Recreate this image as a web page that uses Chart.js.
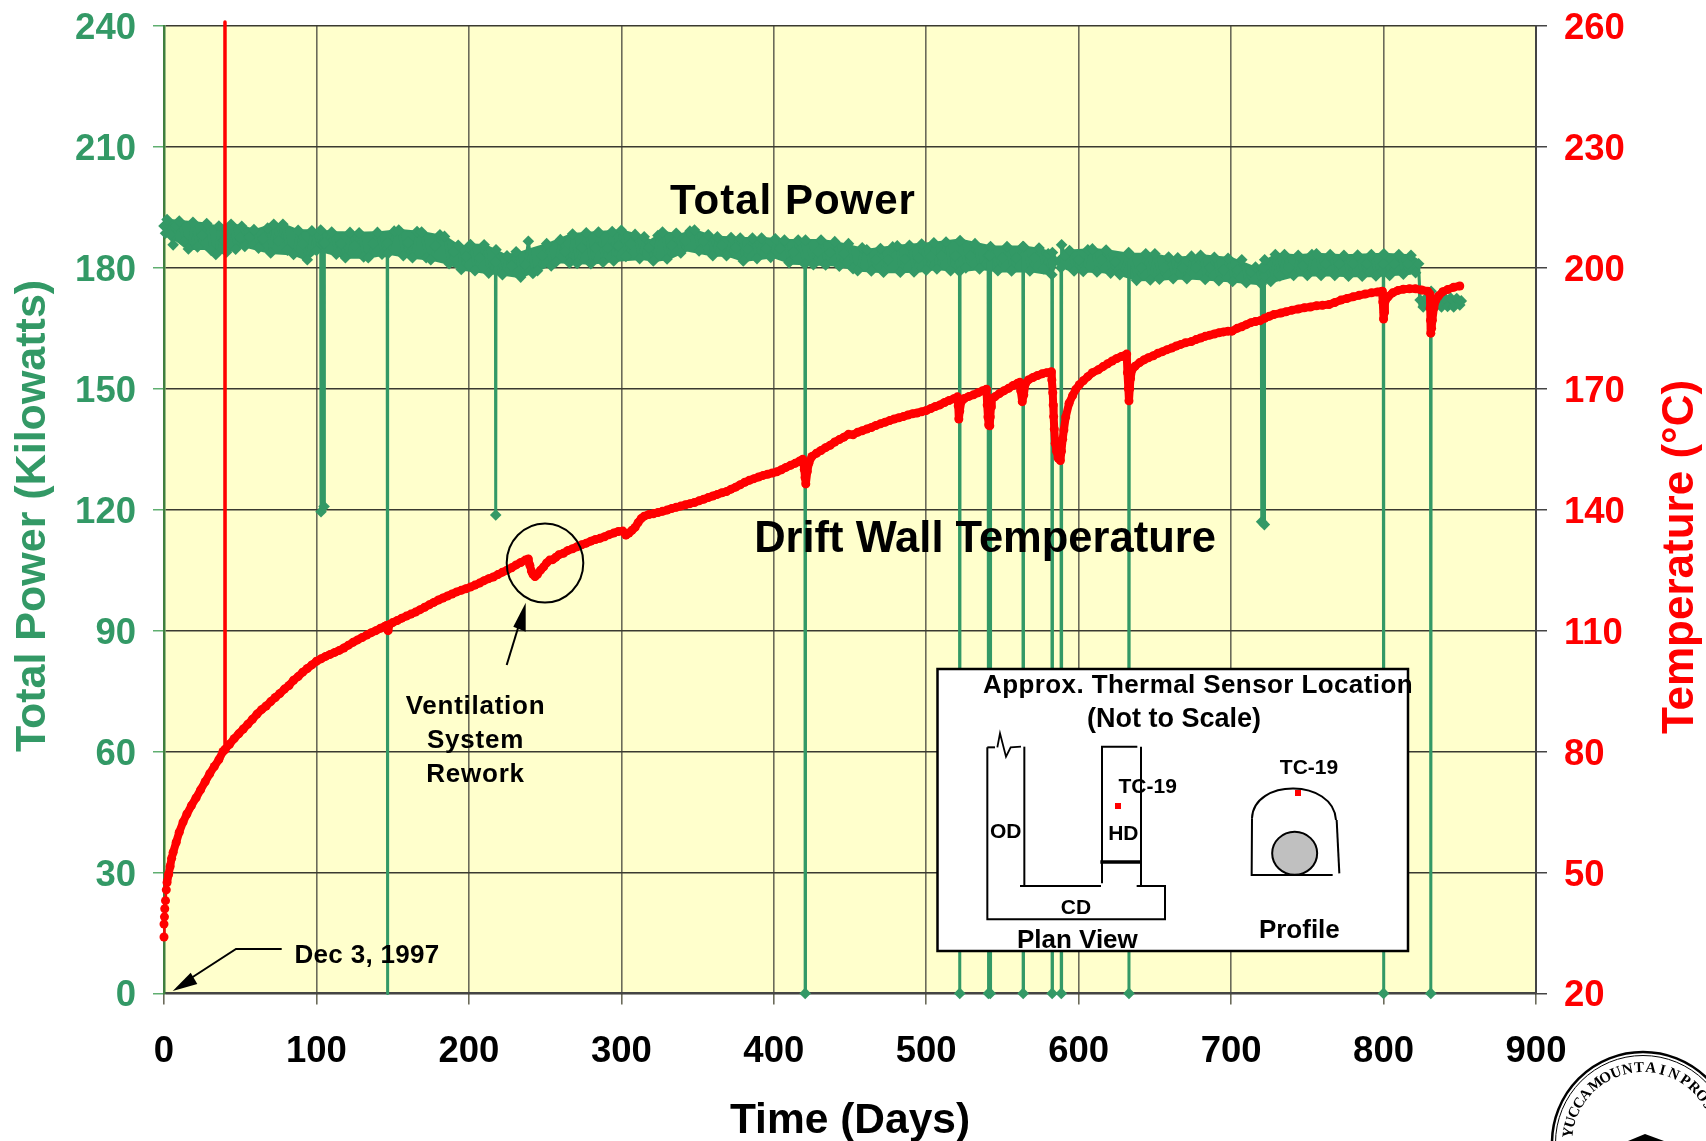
<!DOCTYPE html>
<html>
<head>
<meta charset="utf-8">
<title>Total Power and Drift Wall Temperature</title>
<script src="https://cdn.jsdelivr.net/npm/chart.js@4"></script>
<style>
  html, body { margin: 0; padding: 0; background: #fff; }
  canvas { display: block; }
</style>
</head>
<body>
<canvas id="myChart" width="1706" height="1141"></canvas>
<script>
const FONT = '"Liberation Sans"';
const GREEN = '#339966';
const RED = '#ff0000';

const xTicks = [0, 100, 200, 300, 400, 500, 600, 700, 800, 900];
const powerTicks = [0, 30, 60, 90, 120, 150, 180, 210, 240];
const tempTicks = [20, 50, 80, 110, 140, 170, 200, 230, 260];

// heater power (top edge, bottom edge, middle) and the outage spikes
const powerDays = [
  0,1,2,4,6,8,10,13,16,19,22,25,28,31,34,36,39,41,44,47,50,51,53,56,59,62,65,68,70,72,75,78,81,85,88,91,94,97,100,102.8,
  103,103.2,104.8,105,105.2,110,113,116,119,122,125,128,131,134,137,140,143,146.4,146.6,146.8,151,154,157,160,163,166,169,172,175,178,181,184,187,190,193,195,198,201,204,207,210,213,217.4,
  217.6,217.8,222,225,228,231,234,237,239,242,245,248,251,254,257,260,263,266,268,271,274,277,280,283,285,288,291,294,295,298,300,303,306,309,312,315,318,321,324,327,330,333,336,339,342,345,348,351,354,357,360,363,366,369,372,375,378,380,383,386,389,392,395,398,401,404,407,410,413,416,420.4,
  420.6,420.8,426,429,431,434,437,440,443,446,449,452,455,458,461,464,467,470,472,475,478,481,483,486,489,492,495,497,500,503,505,507,510,513,516,519,521.8,
  522,522.2,526,529,532,535,540.6,540.8,541,541.8,542,542.2,547,550,553,556,559,563.4,563.6,563.8,568,571,574,577,580,582.4,582.6,582.8,588.4,588.6,588.8,591,594,597,600,603,606,609,612,615,618,621,624,627,632.8,633,633.2,638,641,644,647,650,653,656,659,662,665,668,671,674,677,680,683,686,689,692,695,698,701,704,707,710,713,716,719.8,
  720,720.2,721.6,721.8,722,726,729,732,735,738,741,744,747,750,753,756,759,762,765,768,771,774,777,780,783,786,789,792,795,799.8,800,800.2,804,807,810,813,816,818,821,823,
  824,826,828,830.8,831,831.2,834,836,838,840,842,844,846,848,850,851
];
const powerKw = [
  190.4,188.6,192.0,188.2,185.7,190.5,191.6,186.4,184.7,191.3,185.2,188.1,191.0,184.3,183.3,190.4,186.8,183.9,190.8,184.6,187.5,190.3,185.3,187.6,189.5,184.9,187.3,189.9,183.7,190.8,186.7,190.8,184.4,183.3,189.3,185.9,182.0,189.2,184.3,189.4,
  119.5,186.0,186.0,120.8,186.2,188.9,183.4,186.0,182.5,188.8,185.5,188.7,182.7,182.5,186.0,188.8,183.4,186.2,0,183.5,189.1,189.4,183.0,186.3,182.5,189.0,188.9,182.5,182.0,185.5,188.2,187.8,181.0,184.0,185.6,179.6,182.8,185.8,179.3,182.5,185.7,178.7,181.5,
  118.7,184.5,178.3,183.0,180.5,184.0,177.7,180.8,186.6,178.6,179.3,183.0,186.0,180.5,181.4,187.0,184.0,181.2,188.4,181.1,185.0,188.7,181.0,185.0,188.9,181.4,185.0,189.0,181.7,185.5,189.3,182.8,186.0,188.3,182.3,187.7,185.0,181.7,188.0,188.9,182.2,185.6,188.6,183.7,186.7,189.1,189.4,184.2,186.7,188.2,183.0,187.7,185.5,183.0,187.5,185.0,187.4,181.7,184.7,187.4,182.3,187.4,184.8,182.6,187.2,184.8,186.9,181.3,184.0,186.9,180.9,
  0,186.9,180.8,184.0,186.9,180.7,183.8,186.5,180.4,183.5,186.0,179.8,179.3,185.0,184.5,179.2,182.0,184.8,178.9,182.0,185.2,185.5,178.9,182.2,185.6,179.0,182.4,185.9,179.4,182.8,186.2,179.7,183.0,186.4,179.3,183.0,179.1,
  0,186.8,180.0,183.0,186.0,179.7,183.0,0,183.0,183.0,0,185.3,179.3,182.5,185.3,179.2,182.5,185.3,0,185.3,179.2,182.5,184.9,179.8,183.5,178.3,0,183.8,180.0,0,185.7,183.0,184.3,179.2,182.0,179.1,184.5,184.7,179.0,182.0,184.4,178.7,181.5,178.3,183.8,0,183.5,176.9,180.0,183.5,177.0,183.5,177.2,180.0,182.7,177.3,182.5,180.0,177.3,182.9,180.0,183.1,177.1,180.0,182.6,176.8,179.5,182.4,176.6,179.5,182.0,176.3,179.0,180.2,176.0,
  117.0,180.0,180.0,116.3,182.0,176.6,183.3,178.0,183.3,180.0,178.1,183.1,180.5,178.1,183.3,183.5,178.1,181.0,183.3,178.1,181.0,183.1,177.9,181.0,183.2,177.9,181.0,183.3,178.0,181.0,0,183.5,178.1,181.0,183.3,178.4,181.0,183.1,178.8,181.0,
  172.0,170.3,172.5,170.4,0,174.2,170.4,172.5,170.3,172.6,170.4,172.5,170.3,172.4,170.8,171.8
];
const powerNoMarkerDays = [146.6];

// outline of the solid green band, the diamonds sit on top of it
const bandTopDays = [0,1.8,10.5,24.7,34.6,45.5,51,59.7,71.7,78.3,88.1,101.3,112.2,127.5,142.8,154.9,169,184.4,194.2,201.9,210.6,223.8,232,239,252,267.5,285,300,314.5,319,327.7,338.6,347.8,360.5,380,393,410.8,430.5,440,461,480.8,505,522,543,564,575,582.5,585,589,594.5,610,619.6,632.8,648,662,681,700.6,717,723.5,730,743,756.3,774,800,817.6,823,823.5,851];
const bandTopKw = [191,192,191.6,191.1,190.3,190.8,190.3,189.4,190.8,190.8,189.3,189.3,188.9,188.7,188.9,189.4,188.9,187.8,185.3,185.8,185.7,183.2,183.6,184.5,186,188.4,188.9,189.3,187.8,186.8,188.9,188.3,189.4,187.8,187.4,187.4,186.9,186.9,186.5,184.5,185.5,186.2,187,185.3,185.3,184.7,183.7,182,183.5,184.3,184.7,184.3,183.5,183.5,182.4,183.1,182.4,179.9,182,183.5,183.1,183.5,183.1,183.5,183.1,181.8,172.5,172.5];
const bandBottomDays = [0,1.8,16,26.5,33.9,41,53,69.6,84.9,93.6,101,119.9,134,147,162.5,175.6,186.6,195,210.6,222.7,233.6,245.6,256.6,280.6,295,313.4,322,331,343,360.5,370,380,400,412,426,441,456.7,472,483,496,507,521,535.5,548.6,569.4,582.5,585,594.5,603,616,627,638,651,662,675,689.6,700.6,717,728,743,767.3,778,791.4,802,817.6,823,823.5,851];
const bandBottomKw = [188.6,188.4,184.7,184.7,183.3,183.9,185.3,183.7,183.3,182,184.3,182.5,182.5,183.5,182.5,182,181,179.6,178.8,178.3,177.7,179.3,181.4,181,181.7,182.2,181.7,182.2,184.3,183,183,181.7,182.6,181,180.8,180.6,179.3,178.9,178.9,179.1,179.7,179.1,179.7,179.1,179.1,178.3,181,179.3,179.1,178.9,178.3,176.9,177,177.3,177.3,176.9,176.6,176,176.6,178.1,178.1,177.9,177.9,178.1,178.5,180.2,170.4,170.4];

// drift wall temperature, the day 40 line runs off the top of the plot
const tempDays = [
  0,0,0.3,0.5,1,1.5,2,3,4,5,6,8,10,12.5,15,18,21,24,27,30,33,36,38.7,39.9,40,40.1,43,46,49,52,55,58,61,64,67,70,73,76,79,82,85,88,91,94,97,100,103,106,109,112,115,118,121,124,127,130,133,136,139,142,145,146,147,148,
  150,153,156,159,162,165,168,171,174,177,180,183,186,189,192,195,198,201,204,207,210,213,216,219,222,225,228,231,234,237,239,240,241,242,243.4,245,247,249,251,253,255,257,259,262,265,268,271,274,277,280,283,286,289,292,295,298,301,303,305,307,309,311,313,315,318,321,324,327,330,333,336,339,342,345,348,351,354,357,360,363,366,369,372,375,378,381,384,387,390,393,396,399,402,405,408,411,414,417,419,420,420.5,421,422,423,425,428,431,434,437,440,443,446,449,
  452,455,458,461,464,467,470,473,476,479,482,485,488,491,494,497,500,503,506,509,512,515,518,520.5,521,521.4,522,523,525,528,531,534,537,539.5,540,540.5,541,541.7,542,542.5,543,545,548,551,554,557,560,561.5,562,563,564,565,567,570,573,576,579,582,582.4,583,583.3,583.6,584,584.6,585.5,586.5,588,588.7,589.5,590.3,591.5,593.7,596,598,600.4,603,606,609,612.8,616,619,622,625,628,631.5,632,632.6,633,633.5,634,635,637,640,643,645.7,649,652,655,658,661,664,667,670,673.9,677,680,683,686,689,692,695,698,700.6,
  704,707,710,713,716,719,722,725,728,732.7,736,740,744,748,752,756,760,764.3,768,772,776,780,784,788,792,796,799,799.5,800,800.5,800.9,803,806,809.5,813,817,821,825,829,830.4,830.6,830.8,831,831.5,832,833,834.3,836,838.9,842,846,850
];
const tempC = [
  34,37.2,39,41,43,45.7,47.5,49.5,51.5,53.5,55,57.5,60,62.5,64.5,66.6,68.5,70.5,72.5,74.5,76.3,78,80,80.4,261,80.6,81.8,83.2,84.4,85.6,86.8,88,89.3,90.4,91.3,92.4,93.4,94.4,95.5,96.4,97.7,98.6,99.7,100.6,101.5,102.4,103,103.6,104.1,104.6,105.1,105.7,106.4,107.1,107.7,108.3,108.9,109.5,110,110.6,111.1,111.3,110,111.5,
  112,112.5,113.1,113.6,114.1,114.6,115.2,115.8,116.4,117,117.6,118.1,118.6,119.1,119.6,120,120.4,120.8,121.3,121.8,122.4,122.9,123.3,123.9,124.5,125,125.6,126.3,126.9,127.5,127.8,126.2,124.8,124,123.4,124,125,125.8,126.8,127.5,127.6,128.2,128.8,129.2,129.9,130.3,130.8,131.3,131.7,132.2,132.6,132.9,133.3,133.8,134.2,134.6,134.7,133.7,134.2,134.9,135.6,136.8,137.8,138.4,138.8,139,139.3,139.6,139.9,140.3,140.6,140.9,141.2,141.5,141.8,142.2,142.6,143,143.4,143.8,144.2,144.5,145.1,145.6,146.2,146.8,147.3,147.7,148.1,148.5,148.8,149.1,149.4,149.9,150.5,151,151.5,152.1,152.5,150,148,146.4,149.5,151.5,153.2,154,154.7,155.4,156,156.8,157.4,158,158.7,
  158.6,159.2,159.6,160,160.4,160.9,161.3,161.7,162.1,162.5,162.8,163.1,163.5,163.8,164,164.3,164.6,165.1,165.6,166,166.6,167.1,167.5,168,165.8,162.5,164.5,166.8,167.6,168.1,168.5,169,169.5,169.9,166,163,161,160.8,163,165.5,167.5,168,168.8,169.5,170.1,170.8,171.4,171.6,169.5,166.8,168.5,171.2,172.2,172.8,173.3,173.7,174,174.2,172.2,169,166,163.1,160,156.5,154.5,152.8,152.2,154.5,157.5,159.8,163,166.4,168.3,169.8,171,172,173,174,174.7,175.5,176.2,176.9,177.5,178,178.6,174,170,167,170,172.5,174.7,175.6,176.5,177.2,177.7,178.2,178.8,179.2,179.7,180.1,180.6,181,181.4,181.7,182.2,182.6,183,183.3,183.6,183.9,184.1,184.3,184.3,
  185,185.4,185.9,186.4,186.7,186.9,187.5,188,188.4,188.8,189.1,189.5,189.8,190.1,190.3,190.6,190.7,190.9,191.4,192,192.4,192.8,193.2,193.5,193.8,194,194.2,191.5,187.3,189,191.6,192.8,193.8,194.4,194.7,194.8,194.8,194.5,194.2,193.5,190,187,183.8,185,187,190,192,193,194.1,194.6,195.2,195.5
];

const toPoints = (days, vals) => days.map((d, i) => ({ x: d, y: vals[i] }));

// helpers for the drawn notes
function label(ctx, str, x, y, size, color = '#000', spacing = 0, angle = 0) {
  ctx.save();
  ctx.translate(x, y);
  ctx.rotate(angle);
  ctx.font = `bold ${size}px ${FONT}`;
  ctx.fillStyle = color;
  ctx.textAlign = 'center';
  ctx.textBaseline = 'middle';
  ctx.letterSpacing = spacing + 'px';
  ctx.fillText(str, 0, angle ? 0 : 2);
  ctx.restore();
}

function path(ctx, pts, width = 2, fill = null) {
  ctx.beginPath();
  pts.forEach((p, i) => (i ? ctx.lineTo(p[0], p[1]) : ctx.moveTo(p[0], p[1])));
  if (fill) {
    ctx.closePath();
    ctx.fillStyle = fill;
    ctx.fill();
  } else {
    ctx.lineWidth = width;
    ctx.strokeStyle = '#000';
    ctx.stroke();
  }
}

function drawInset(ctx) {
  // coordinates of the sketch are relative to the picture, it is not data
  ctx.fillStyle = '#fff';
  ctx.fillRect(937.5, 669, 470.5, 282);
  ctx.lineWidth = 2.5;
  ctx.strokeStyle = '#000';
  ctx.strokeRect(937.5, 669, 470.5, 282);

  label(ctx, 'Approx. Thermal Sensor Location', 1198, 684, 26, '#000', 0.4);
  label(ctx, '(Not to Scale)', 1174, 718, 27);

  const X = v => 920 + v / 3;
  const Y = v => 650 + v / 3;
  const seg = (arr, w) => path(ctx, arr.map(p => [X(p[0]), Y(p[1])]), w);
  seg([[202, 292], [202, 808], [735, 808], [735, 708], [650, 708]], 2);
  seg([[300, 708], [543, 708]], 2);
  seg([[313, 290], [313, 708]], 2);
  seg([[546, 700], [546, 290], [652, 290]], 2);
  seg([[663, 290], [663, 705]], 2);
  seg([[541, 636], [663, 636]], 3.5);
  seg([[202, 292], [225, 292]], 2);
  seg([[232, 292], [240, 250], [258, 320], [272, 292], [303, 290]], 1.8);
  seg([[1238, 675], [995, 675], [996, 505]], 2);
  seg([[1250, 510], [1258, 670]], 2);

  ctx.beginPath();
  ctx.moveTo(X(996), Y(505));
  ctx.bezierCurveTo(X(1000), Y(385), X(1240), Y(385), X(1248), Y(510));
  ctx.lineWidth = 2;
  ctx.stroke();

  ctx.beginPath();
  ctx.ellipse(X(1124), Y(610), 22.5, 21.5, 0, 0, Math.PI * 2);
  ctx.fillStyle = '#c0c0c0';
  ctx.fill();
  ctx.stroke();

  ctx.fillStyle = RED;
  ctx.fillRect(X(594) - 3, Y(468) - 3, 6, 6);
  ctx.fillRect(X(1134) - 3, Y(429) - 3, 6, 6);

  label(ctx, 'TC-19', X(683), Y(405), 21);
  label(ctx, 'TC-19', X(1167), Y(350), 21);
  label(ctx, 'OD', X(257), Y(540), 21);
  label(ctx, 'HD', X(610), Y(548), 21);
  label(ctx, 'CD', X(468), Y(768), 21);
  label(ctx, 'Plan View', X(472), Y(866), 26);
  label(ctx, 'Profile', X(1138), Y(836), 26);
}

function drawSeal(ctx) {
  const cx = 1643, cy = 1143;
  ctx.strokeStyle = '#000';
  ctx.lineWidth = 2.5;
  ctx.beginPath();
  ctx.arc(cx, cy, 91, 0, Math.PI * 2);
  ctx.stroke();
  ctx.lineWidth = 1;
  ctx.beginPath();
  ctx.arc(cx, cy, 87.5, 0, Math.PI * 2);
  ctx.stroke();

  const words = [['YUCCA', -82, -50], ['MOUNTAIN', -39, 24], ['PROJECT', 34, 86]];
  for (const [word, from, to] of words) {
    const step = (to - from) / (word.length - 1);
    [...word].forEach((ch, i) => {
      const a = (from + step * i) * Math.PI / 180;
      ctx.save();
      ctx.translate(cx + Math.sin(a) * 71, cy - Math.cos(a) * 71);
      ctx.rotate(a);
      ctx.font = 'bold 15px "Liberation Serif"';
      ctx.fillStyle = '#000';
      ctx.textAlign = 'center';
      ctx.fillText(ch, 0, 0);
      ctx.restore();
    });
  }
  path(ctx, [[1628, 1141], [1645, 1134], [1664, 1141]], 0, '#000');
}

const plotBackground = {
  id: 'plotBackground',
  afterUpdate(chart) {
    // value labels of both y axes sit a little lower than the library centres them
    [chart.scales.yPower, chart.scales.yTemp].forEach(s => {
      s.getLabelItems(chart.chartArea).forEach(it => { it.options.translation[1] += 3; });
    });
  },
  beforeDraw(chart) {
    const { ctx, chartArea: a } = chart;
    ctx.save();
    ctx.fillStyle = '#ffffcc';
    ctx.fillRect(a.left, a.top, a.width, a.height);
    ctx.restore();
  }
};

const notes = {
  id: 'notes',
  afterDraw(chart) {
    const ctx = chart.ctx;
    ctx.save();
    label(ctx, 'Total Power', 793, 200, 42, '#000', 1);
    label(ctx, 'Drift Wall Temperature', 985, 538, 43.5);
    label(ctx, 'Total Power (Kilowatts)', 33, 516, 43, GREEN, 0, -Math.PI / 2);
    label(ctx, 'Temperature (°C)', 1681, 557, 44, RED, 0, -Math.PI / 2);

    // start date callout
    path(ctx, [[281.7, 949], [236, 949], [185, 982]], 2);
    path(ctx, [[172.7, 991], [190.7, 972.7], [197.3, 984]], 0, '#000');
    label(ctx, 'Dec 3, 1997', 367, 954, 26, '#000', 0.3);

    // ventilation rework callout
    ctx.beginPath();
    ctx.ellipse(545, 563, 38.3, 39.5, 0, 0, Math.PI * 2);
    ctx.lineWidth = 2;
    ctx.strokeStyle = '#000';
    ctx.stroke();
    path(ctx, [[506.7, 665], [518, 628]], 2);
    path(ctx, [[525.7, 602.7], [513.3, 626.7], [525.7, 631.7]], 0, '#000');
    label(ctx, 'Ventilation', 475.5, 705, 26, '#000', 0.75);
    label(ctx, 'System', 475.5, 739, 26, '#000', 0.75);
    label(ctx, 'Rework', 475.5, 772.5, 26, '#000', 0.75);

    drawInset(ctx);
    drawSeal(ctx);
    ctx.restore();
  }
};

new Chart(document.getElementById('myChart').getContext('2d'), {
  type: 'scatter',
  data: {
    datasets: [
      {
        label: 'Drift Wall Temperature',
        data: toPoints(tempDays, tempC),
        yAxisID: 'yTemp',
        order: 1,
        showLine: true,
        clip: 6,
        borderColor: RED,
        backgroundColor: RED,
        borderWidth: 8,
        borderJoinStyle: 'round',
        borderCapStyle: 'round',
        segment: {
          borderWidth: c => (c.p0.parsed.y > 260 || c.p1.parsed.y > 260 ? 3.5 : (c.p1.parsed.x < 3 ? 2.5 : 8))
        },
        pointStyle: 'circle',
        pointBorderWidth: 0,
        pointRadius: c => (tempC[c.dataIndex] > 260 ? 0 : 4.5)
      },
      {
        label: 'Total Power',
        data: toPoints(powerDays, powerKw),
        yAxisID: 'yPower',
        order: 2,
        showLine: true,
        clip: false,
        borderColor: GREEN,
        backgroundColor: GREEN,
        borderWidth: 3,
        borderJoinStyle: 'round',
        pointStyle: 'rectRot',
        pointBorderWidth: 0,
        pointRadius: c => (powerNoMarkerDays.includes(powerDays[c.dataIndex]) ? 0 : 5.8)
      },
      {
        label: 'Power band top',
        data: toPoints(bandTopDays, bandTopKw),
        yAxisID: 'yPower',
        order: 3,
        showLine: true,
        fill: '+1',
        borderColor: GREEN,
        backgroundColor: GREEN,
        borderWidth: 2,
        pointRadius: 0
      },
      {
        label: 'Power band bottom',
        data: toPoints(bandBottomDays, bandBottomKw),
        yAxisID: 'yPower',
        order: 4,
        showLine: true,
        borderColor: GREEN,
        borderWidth: 2,
        pointRadius: 0
      }
    ]
  },
  options: {
    responsive: false,
    animation: false,
    devicePixelRatio: 1,
    layout: { padding: { top: 26, left: 0, right: 0, bottom: 0 } },
    plugins: { legend: { display: false }, tooltip: { enabled: false } },
    scales: {
      x: {
        type: 'linear',
        min: 0,
        max: 900,
        afterBuildTicks: s => { s.ticks = xTicks.map(v => ({ value: v })); },
        afterFit: s => { s.height = 147.6; s.paddingLeft = 0; s.paddingRight = 0; },
        grid: { color: '#6b6b5a', lineWidth: 1.6, tickLength: 11, tickColor: '#6b6b5a' },
        border: { color: '#444', width: 2 },
        ticks: { color: '#000', font: { family: FONT, size: 36.5, weight: 'bold' }, padding: 26, maxRotation: 0 },
        title: {
          display: true,
          text: 'Time (Days)',
          color: '#000',
          font: { family: FONT, size: 42.5, weight: 'bold', lineHeight: 1 },
          padding: { top: 0, bottom: -2 }
        }
      },
      yPower: {
        position: 'left',
        min: 0,
        max: 240,
        afterBuildTicks: s => { s.ticks = powerTicks.map(v => ({ value: v })); },
        afterFit: s => { s.width = 164; s.paddingTop = 0; s.paddingBottom = 0; },
        grid: { color: '#3a3a30', lineWidth: 1.5, tickLength: 11, tickColor: '#5fae70' },
        border: { color: '#3f7f3f', width: 2.5 },
        ticks: { color: GREEN, font: { family: FONT, size: 36.5, weight: 'bold' }, padding: 17 }
      },
      yTemp: {
        position: 'right',
        min: 20,
        max: 260,
        afterBuildTicks: s => { s.ticks = tempTicks.map(v => ({ value: v })); },
        afterFit: s => { s.width = 170; s.paddingTop = 0; s.paddingBottom = 0; },
        grid: { display: true, drawOnChartArea: false, lineWidth: 1.5, tickLength: 11, tickColor: '#444' },
        border: { color: '#444', width: 2 },
        ticks: { color: RED, font: { family: FONT, size: 36.5, weight: 'bold' }, padding: 17 }
      }
    }
  },
  plugins: [plotBackground, notes]
});
</script>
</body>
</html>
